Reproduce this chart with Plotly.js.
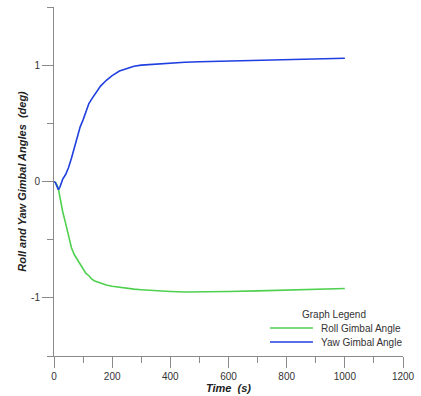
<!DOCTYPE html>
<html><head><meta charset="utf-8">
<script src="https://cdn.plot.ly/plotly-3.0.1.min.js"></script>
<style>html,body{margin:0;padding:0;background:#fff}#chart{width:421px;height:396px}</style>
</head><body><div id="chart"></div>
<script>
const time = [0,5,10,15,20,25,30,40,50,60,70,80,90,100,110,120,130,140,150,160,180,200,225,250,275,300,350,400,450,500,600,700,800,900,1000];
const yawAngle = [0,-0.01,-0.04,-0.07,-0.05,-0.01,0.02,0.06,0.12,0.2,0.29,0.38,0.47,0.53,0.6,0.67,0.71,0.75,0.79,0.82,0.87,0.91,0.95,0.97,0.99,1.0,1.01,1.02,1.025,1.03,1.035,1.04,1.045,1.05,1.06];
const rollAngle = [0,-0.01,-0.03,-0.06,-0.13,-0.2,-0.26,-0.36,-0.47,-0.57,-0.63,-0.67,-0.72,-0.75,-0.79,-0.81,-0.84,-0.855,-0.865,-0.875,-0.89,-0.9,-0.91,-0.92,-0.925,-0.93,-0.94,-0.945,-0.95,-0.95,-0.945,-0.94,-0.935,-0.925,-0.92];
const seriesNames = ['Roll Gimbal Angle','Yaw Gimbal Angle'];
const seriesColors = ['#4fd04f','#1f3fe0'];
const legendTitle = 'Graph Legend';
const xTicks = [0,200,400,600,800,1000,1200];
const yTicks = [-1,0,1];

const axisColor = '#8a8a8a';
const FAM = 'Liberation Sans, Arial, sans-serif';
const fnt = {family:FAM, size:10, color:'#333'};
const data = [
  {x:time, y:rollAngle, name:seriesNames[0], mode:'lines', line:{color:seriesColors[0], width:1.6}},
  {x:time, y:yawAngle, name:seriesNames[1], mode:'lines', line:{color:seriesColors[1], width:1.6}}
];
// manual legend (compact spacing like the reference)
const legY = [0.0802, 0.0401];
const shapes = seriesNames.map((n,i)=>({type:'line', xref:'paper', yref:'paper', x0:0.619, x1:0.742, y0:legY[i], y1:legY[i], line:{color:seriesColors[i], width:1.6}}));
const annotations = seriesNames.map((n,i)=>({xref:'paper', yref:'paper', x:0.759, y:legY[i], xanchor:'left', yanchor:'middle', text:n, showarrow:false, font:fnt}));
annotations.push({xref:'paper', yref:'paper', x:0.802, y:0.1175, xanchor:'center', yanchor:'middle', text:legendTitle, showarrow:false, font:fnt});

const layout = {
  width:421, height:396,
  margin:{l:54, r:18, t:7, b:40},
  paper_bgcolor:'#fff', plot_bgcolor:'#fff',
  font:fnt,
  showlegend:false,
  shapes:shapes, annotations:annotations,
  xaxis:{range:[0,1200], tickvals:xTicks, ticktext:xTicks.map(String), ticks:'outside', ticklen:11, tickcolor:axisColor,
    showline:true, linecolor:axisColor, linewidth:1, showgrid:false, zeroline:false,
    minor:{dtick:100, ticks:'outside', ticklen:6, tickcolor:axisColor, showgrid:false},
    tickfont:fnt,
    title:{text:'<b><i>Time  (s)</i></b>', font:{family:FAM, size:11, color:'#222'}, standoff:3}},
  yaxis:{range:[-1.5,1.5], tickvals:yTicks, ticktext:yTicks.map(String), ticks:'outside', ticklen:11, tickcolor:axisColor,
    showline:true, linecolor:axisColor, linewidth:1, showgrid:false, zeroline:false,
    minor:{dtick:0.5, ticks:'outside', ticklen:6, tickcolor:axisColor, showgrid:false},
    tickfont:fnt,
    title:{text:'<b><i>Roll and Yaw Gimbal Angles  (deg)</i></b>', font:{family:FAM, size:11, color:'#222'}, standoff:2}}
};
Plotly.newPlot('chart', data, layout, {displayModeBar:false, staticPlot:true});
</script></body></html>
